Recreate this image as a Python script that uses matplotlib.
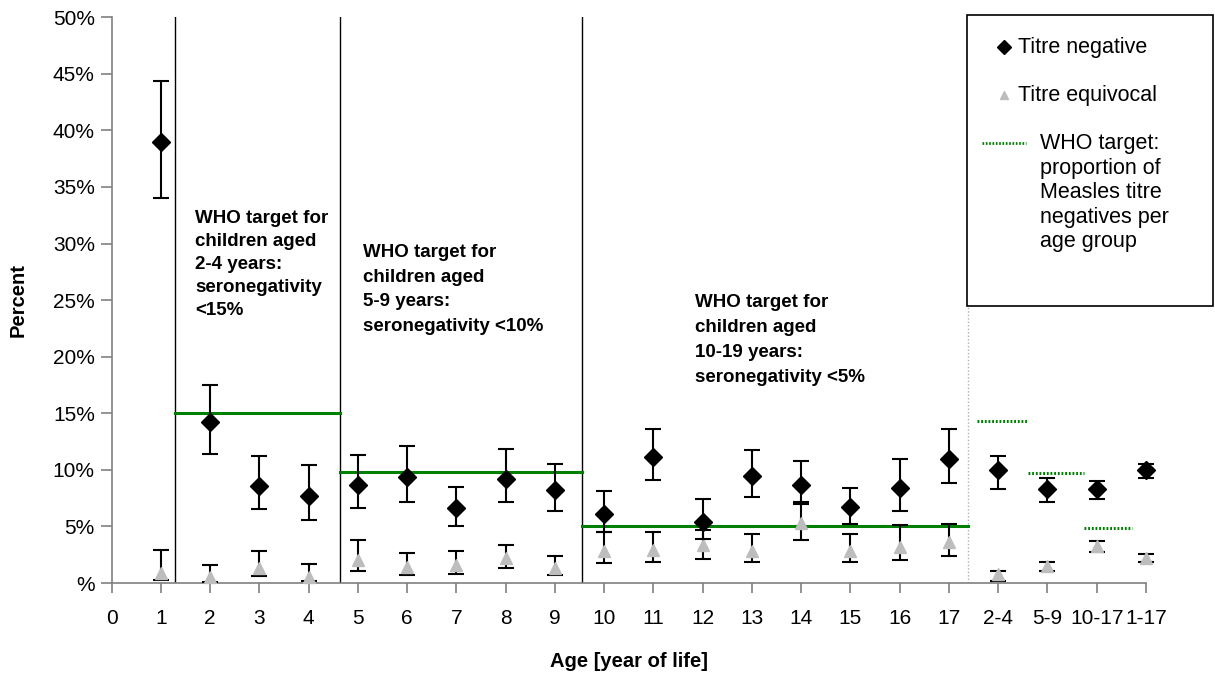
import matplotlib
matplotlib.use("Agg")
from matplotlib import pyplot as plt
from matplotlib.lines import Line2D
from matplotlib.patches import Rectangle

plt.rcParams['font.family'] = ['Liberation Sans', 'DejaVu Sans']

# Data (percent)
tick_labels = ["0", "1", "2", "3", "4", "5", "6", "7", "8", "9", "10", "11", "12", "13",
               "14", "15", "16", "17", "2-4", "5-9", "10-17", "1-17"]
positions = list(range(1, 22))  # ages 1-17, then the four age groups

neg = [39.0, 14.2, 8.55, 7.7, 8.7, 9.4, 6.6, 9.2, 8.2, 6.1, 11.1, 5.4, 9.5, 8.7, 6.7, 8.4,
       10.95, 9.95, 8.35, 8.3, 9.95]
neg_lo = [34.0, 11.4, 6.5, 5.6, 6.6, 7.2, 5.0, 7.2, 6.4, 4.5, 9.1, 3.9, 7.6, 7.0, 5.2, 6.4,
          8.8, 8.35, 7.2, 7.45, 9.25]
neg_hi = [44.4, 17.5, 11.2, 10.4, 11.3, 12.1, 8.5, 11.8, 10.5, 8.15, 13.6, 7.4, 11.75, 10.8,
          8.4, 11.0, 13.6, 11.25, 9.3, 9.0, 10.55]

equ = [0.9, 0.5, 1.35, 0.55, 2.0, 1.4, 1.56, 2.2, 1.3, 2.8, 2.9, 3.4, 2.8, 5.3, 2.8, 3.2,
       3.6, 0.76, 1.5, 3.25, 2.25]
equ_lo = [0.3, 0.1, 0.6, 0.15, 1.03, 0.74, 0.82, 1.3, 0.68, 1.8, 1.9, 2.1, 1.9, 3.8, 1.9,
          2.05, 2.4, 0.18, 1.06, 2.7, 1.85]
equ_hi = [2.9, 1.55, 2.8, 1.7, 3.8, 2.65, 2.85, 3.35, 2.35, 4.55, 4.5, 4.7, 4.3, 7.2, 4.3,
          5.1, 5.2, 1.06, 1.85, 3.7, 2.55]

# WHO targets: (start, end, level)
target_solid = [(1.28, 4.64, 15.0), (4.64, 9.56, 9.85), (9.56, 17.38, 5.0)]
target_dotted = [(17.57, 18.6, 14.3), (18.6, 19.74, 9.76), (19.74, 20.72, 4.9)]
dividers = [1.28, 4.64, 9.56]
group_divider = 17.38

notes = [
    (1.7, 32.95, 1.45, "WHO target for\nchildren aged\n2-4 years:\nseronegativity\n<15%"),
    (5.1, 29.95, 1.58, "WHO target for\nchildren aged\n5-9 years:\nseronegativity <10%"),
    (11.85, 25.55, 1.62, "WHO target for\nchildren aged\n10-19 years:\nseronegativity <5%"),
]

fig = plt.figure(figsize=(12.15, 6.77), dpi=100)
ax = fig.add_axes([0.0918, 0.1388, 0.8514, 0.8358])

green = "#008000"
for x in dividers:
    ax.plot([x, x], [0, 50], color="black", lw=1.0, zorder=1)
ax.plot([group_divider] * 2, [0, 50], color="#b0b0b0", lw=1.0, ls=(0, (1, 1.5)), zorder=1)

for x0, x1, lvl in target_solid:
    ax.plot([x0, x1], [lvl, lvl], color=green, lw=2.2, zorder=2)
for x0, x1, lvl in target_dotted:
    ax.plot([x0, x1], [lvl, lvl], color=green, lw=2.2, ls=(0, (0.6, 0.6)), zorder=2)

err_neg = [[v - lo for v, lo in zip(neg, neg_lo)], [hi - v for v, hi in zip(neg, neg_hi)]]
err_equ = [[v - lo for v, lo in zip(equ, equ_lo)], [hi - v for v, hi in zip(equ, equ_hi)]]

eb1 = ax.errorbar(positions, equ, yerr=err_equ, fmt="^", color="#bdbdbd", ms=8, mec="#bdbdbd",
                  ecolor="black", elinewidth=1.5, capsize=6, capthick=1.5, zorder=3)
eb2 = ax.errorbar(positions, neg, yerr=err_neg, fmt="D", color="black", ms=9,
                  ecolor="black", elinewidth=1.5, capsize=6, capthick=1.5, zorder=4)
for eb in (eb1, eb2):
    eb[0].set_clip_on(False)
    for art in eb[1] + eb[2]:
        art.set_clip_on(False)

for x, y, sp, s in notes:
    ax.text(x, y, s, fontsize=13.5, fontweight="bold", va="top", ha="left", linespacing=sp)

ax.set_xlim(0, 21)
ax.set_ylim(0, 50)
ax.set_xticks(range(22))
ax.set_xticklabels(tick_labels)
ax.set_yticks(range(0, 51, 5))
ax.set_yticklabels(["%"] + ["%d%%" % v for v in range(5, 51, 5)])
ax.tick_params(axis="both", labelsize=15, color="#808080", width=1.2)
ax.tick_params(axis="x", length=7, pad=12)
ax.tick_params(axis="y", length=8, pad=4)
for side in ["top", "right"]:
    ax.spines[side].set_visible(False)
for side in ["left", "bottom"]:
    ax.spines[side].set_color("#808080")
    ax.spines[side].set_linewidth(1.2)

ax.set_xlabel("Age [year of life]", fontsize=14.5, fontweight="bold", labelpad=17)
ax.set_ylabel("Percent", fontsize=14.5, fontweight="bold", labelpad=18)

# Legend box
W, H = 1215.0, 677.0
fig.patches.append(Rectangle((967 / W, 1 - 306 / H), 246 / W, 291 / H, transform=fig.transFigure,
                             facecolor="white", edgecolor="black", lw=1.2, zorder=5))
fig.lines.append(Line2D([1004 / W], [1 - 47 / H], marker="D", color="black", ms=7,
                        transform=fig.transFigure, zorder=6))
fig.lines.append(Line2D([1004 / W], [1 - 95 / H], marker="^", color="#bdbdbd", ms=6,
                        transform=fig.transFigure, zorder=6))
fig.lines.append(Line2D([982 / W, 1026 / W], [1 - 143 / H] * 2, color=green, lw=2,
                        ls=(0, (0.6, 0.6)), transform=fig.transFigure, zorder=6))
fig.text(1018 / W, 1 - 47 / H, "Titre negative", fontsize=15.5, va="center", ha="left", zorder=7)
fig.text(1018 / W, 1 - 95 / H, "Titre equivocal", fontsize=15.5, va="center", ha="left", zorder=7)
fig.text(1040 / W, 1 - 133 / H, "WHO target:\nproportion of\nMeasles titre\nnegatives per\nage group",
         fontsize=15.5, va="top", ha="left", linespacing=1.22, zorder=7)

fig.savefig("out.png", dpi=100)
